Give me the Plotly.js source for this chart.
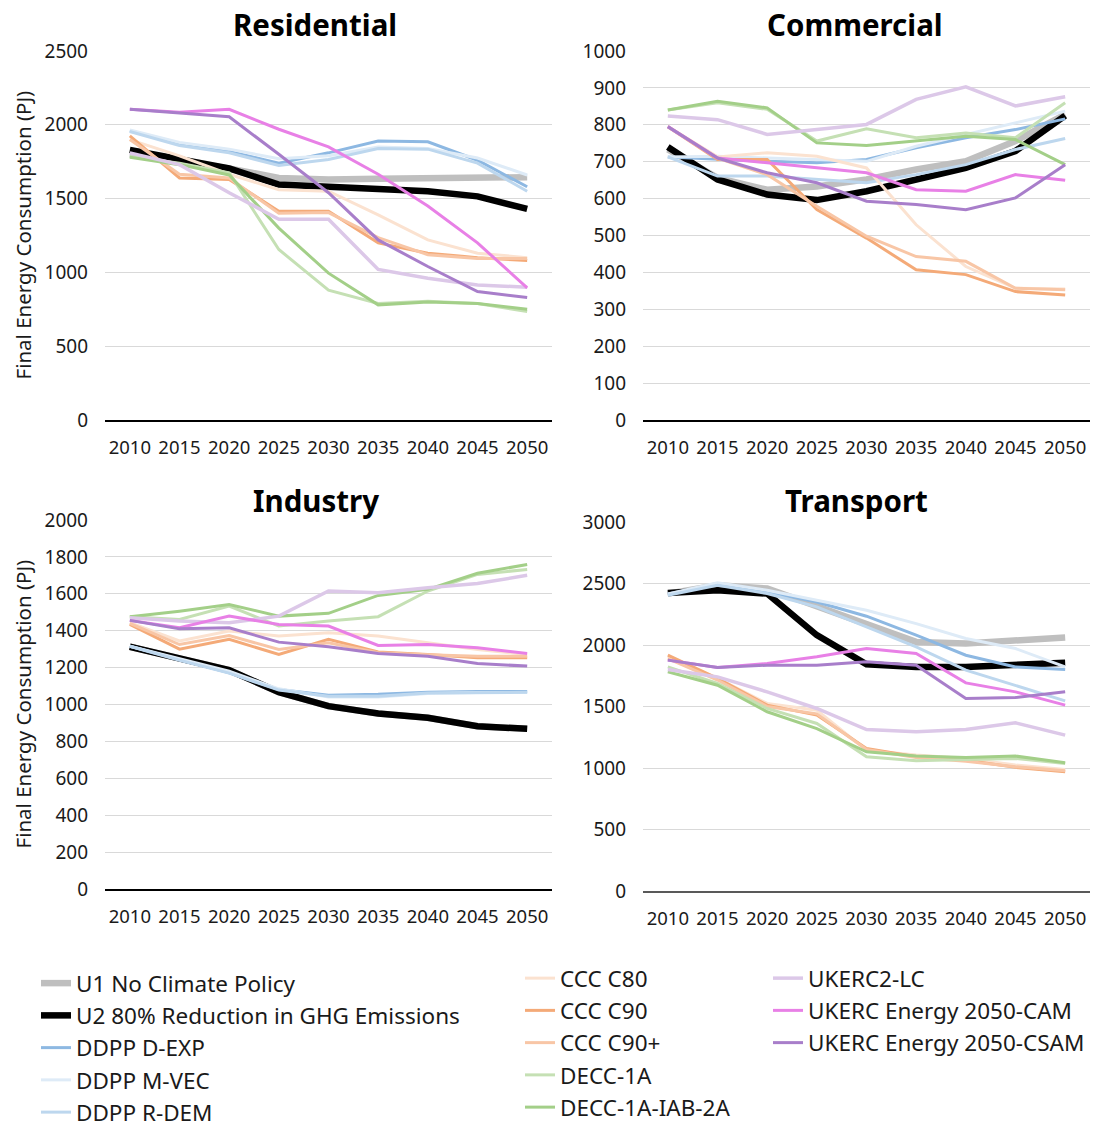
<!DOCTYPE html>
<html>
<head>
<meta charset="utf-8">
<script src="https://cdn.plot.ly/plotly-3.0.1.min.js"></script>
<style>html,body{margin:0;padding:0;background:#fff;}#chart{width:1096px;height:1133px;}</style>
</head>
<body>
<div id="chart"></div>
<script>
const years = ['2010','2015','2020','2025','2030','2035','2040','2045','2050'];
const seriesNames = ['U1 No Climate Policy','U2 80% Reduction in GHG Emissions','DDPP D-EXP','DDPP M-VEC','DDPP R-DEM','CCC C80','CCC C90','CCC C90+','DECC-1A','DECC-1A-IAB-2A','UKERC2-LC','UKERC Energy 2050-CAM','UKERC Energy 2050-CSAM'];
const panelTitles = ['Residential','Commercial','Industry','Transport'];

// Residential (PJ)
const resU1   = [1800,1755,1705,1640,1630,1635,1640,1635,1645];
const resU2   = [1830,1765,1705,1595,1580,1560,1550,1515,1430];
const resDEXP = [1960,1870,1820,1740,1810,1890,1885,1760,1580];
const resMVEC = [1965,1880,1835,1770,1790,1850,1840,1775,1660];
const resRDEM = [1955,1860,1810,1725,1765,1840,1835,1740,1550];
const resC80  = [1900,1790,1665,1560,1550,1390,1220,1130,1100];
const resC90  = [1925,1640,1630,1415,1415,1200,1130,1100,1080];
const resC90p = [1900,1665,1640,1400,1405,1235,1120,1095,1095];
const resD1A  = [1785,1740,1675,1155,880,790,805,790,735];
const resD2A  = [1780,1730,1660,1300,995,780,800,790,750];
const resLC   = [1810,1730,1540,1360,1360,1020,960,915,900];
const resCAM  = [2105,2085,2105,1970,1850,1665,1450,1200,895];
const resCSAM = [2105,2080,2055,1800,1540,1220,1040,870,830];

// Commercial (PJ)
const comU1   = [733,656,624,633,652,679,701,756,828];
const comU2   = [740,652,611,596,620,652,683,729,825];
const comDEXP = [713,706,701,697,706,738,765,787,816];
const comMVEC = [713,715,710,705,701,742,774,805,837];
const comRDEM = [713,661,661,652,643,665,692,733,763];
const comC80  = [795,713,724,715,683,529,416,357,355];
const comC90  = [795,706,706,570,493,407,394,348,339];
const comC90p = [795,710,665,579,498,443,430,357,353];
const comD1A  = [840,860,842,756,789,765,778,765,860];
const comD2A  = [840,864,846,751,744,756,769,760,692];
const comLC   = [824,814,774,787,801,869,903,851,876];
const comCAM  = [795,710,697,683,670,624,620,665,650];
const comCSAM = [795,710,670,643,593,584,570,602,692];

// Industry (PJ)
const indU1   = [1313,1248,1186,1067,991,951,928,882,868];
const indU2   = [1313,1248,1186,1067,991,951,928,882,868];
const indDEXP = [1316,1244,1172,1081,1050,1055,1067,1070,1070];
const indMVEC = [1316,1250,1180,1085,1040,1040,1060,1065,1065];
const indRDEM = [1316,1240,1170,1078,1045,1045,1062,1066,1066];
const indC80  = [1443,1344,1398,1371,1389,1371,1335,1298,1271];
const indC90  = [1434,1300,1353,1271,1353,1285,1271,1253,1253];
const indC90p = [1440,1325,1374,1298,1335,1280,1270,1262,1262];
const indD1A  = [1476,1461,1533,1425,1452,1476,1615,1705,1732];
const indD2A  = [1476,1506,1542,1479,1494,1591,1624,1711,1759];
const indLC   = [1470,1452,1443,1479,1615,1606,1633,1656,1700];
const indCAM  = [1456,1416,1479,1434,1425,1320,1325,1307,1277];
const indCSAM = [1456,1410,1416,1338,1313,1277,1262,1222,1208];

// Transport (PJ)
const traU1   = [2418,2486,2459,2310,2174,2025,2012,2039,2061];
const traU2   = [2423,2445,2418,2080,1844,1822,1822,1836,1855];
const traDEXP = [2415,2494,2432,2350,2234,2080,1917,1822,1801];
const traMVEC = [2415,2505,2445,2364,2283,2174,2053,1971,1822];
const traRDEM = [2405,2486,2418,2310,2147,1985,1795,1673,1546];
const traC80  = [1904,1728,1525,1470,1145,1105,1078,1024,988];
const traC90  = [1917,1728,1511,1430,1159,1091,1064,1005,969];
const traC90p = [1890,1715,1500,1440,1150,1085,1055,1010,978];
const traD1A  = [1822,1687,1484,1362,1091,1059,1070,1078,1037];
const traD2A  = [1782,1673,1457,1321,1132,1097,1086,1097,1043];
const traLC   = [1801,1741,1619,1484,1313,1294,1313,1367,1267];
const traCAM  = [1877,1817,1849,1904,1971,1931,1692,1619,1511];
const traCSAM = [1877,1817,1836,1836,1863,1836,1565,1573,1619];

const panels = [
  [resU1,resU2,resDEXP,resMVEC,resRDEM,resC80,resC90,resC90p,resD1A,resD2A,resLC,resCAM,resCSAM],
  [comU1,comU2,comDEXP,comMVEC,comRDEM,comC80,comC90,comC90p,comD1A,comD2A,comLC,comCAM,comCSAM],
  [indU1,indU2,indDEXP,indMVEC,indRDEM,indC80,indC90,indC90p,indD1A,indD2A,indLC,indCAM,indCSAM],
  [traU1,traU2,traDEXP,traMVEC,traRDEM,traC80,traC90,traC90p,traD1A,traD2A,traLC,traCAM,traCSAM]
];

const colors = ['#BFBFBF','#000000','#8DB8E2','#DEEBF7','#BDD7EE','#FBE2D0','#F4AA78','#F8C6A6','#C5E0B4','#A3CF88','#DCC8E8','#E880E6','#A87ECA'];
const widths = [6.5,6.5,3,3,3,3,3,3,3,3,3.5,3,3];
const legendOf = ['legend','legend','legend','legend','legend','legend2','legend2','legend2','legend2','legend2','legend3','legend3','legend3'];

const W = 1096, H = 1133;
const font = 'Noto Sans, Open Sans, sans-serif';
const xDom = [[105/W,552/W],[643/W,1090/W],[105/W,552/W],[643/W,1090/W]];
const yDom = [[1-420/H,1-51/H],[1-420/H,1-51/H],[1-889/H,1-520/H],[1-891/H,1-522/H]];
const yMax = [2500,1000,2000,3000];
const yStep = [500,100,200,500];
const baseColor = ['#000000','#000000','#000000','#595959'];

const traces = [];
panels.forEach((p, pi) => {
  p.forEach((vals, si) => {
    traces.push({
      type:'scatter', mode:'lines', x: years, y: vals,
      name: seriesNames[si], legendgroup: 'g'+si,
      showlegend: pi === 0, legend: legendOf[si],
      line:{color:colors[si], width:widths[si]},
      xaxis: pi === 0 ? 'x' : 'x'+(pi+1),
      yaxis: pi === 0 ? 'y' : 'y'+(pi+1),
      hovertemplate: '%{x}: %{y} PJ<extra>'+seriesNames[si]+'</extra>'
    });
  });
});

const legFont = {size:22.5, family:font, color:'#1a1a1a'};
const layout = {
  width: W, height: H, margin:{l:0,r:0,t:0,b:0,autoexpand:false},
  paper_bgcolor:'#ffffff', plot_bgcolor:'#ffffff',
  font:{family:font, color:'#1a1a1a', size:18},
  annotations: [],
  legend:{x:36/W, y:1-962/H, xanchor:'left', yanchor:'top', tracegroupgap:0, font:legFont, bgcolor:'rgba(0,0,0,0)'},
  legend2:{x:520/W, y:1-957/H, xanchor:'left', yanchor:'top', tracegroupgap:0, font:legFont, bgcolor:'rgba(0,0,0,0)'},
  legend3:{x:768/W, y:1-957/H, xanchor:'left', yanchor:'top', tracegroupgap:0, font:legFont, bgcolor:'rgba(0,0,0,0)'}
};

for (let i = 0; i < 4; i++) {
  const xs = i === 0 ? 'xaxis' : 'xaxis'+(i+1);
  const ys = i === 0 ? 'yaxis' : 'yaxis'+(i+1);
  layout[xs] = {
    domain: xDom[i], anchor: i === 0 ? 'y' : 'y'+(i+1),
    type:'category', range:[-0.5, 8.5], showgrid:false, zeroline:false,
    showline:true, linecolor: baseColor[i], linewidth:1.6, ticks:'', automargin:false,
    tickfont:{size:18.5, family:font, color:'#1a1a1a'}, ticklabelstandoff:10, fixedrange:true
  };
  layout[ys] = {
    domain: yDom[i], anchor: i === 0 ? 'x' : 'x'+(i+1),
    range:[0, yMax[i]], dtick: yStep[i], tick0:0, showgrid:true, gridcolor:'#D9D9D9', gridwidth:1.3,
    zeroline:false, showline:false, ticks:'', automargin:false,
    tickfont:{size:19, family:font, color:'#1a1a1a'}, ticklabelstandoff:16, fixedrange:true
  };
}

// Panel titles
const titlePos = [[315,25],[855,25],[316,500],[856,500]];
panelTitles.forEach((t, i) => {
  layout.annotations.push({
    text:'<b>'+t+'</b>', xref:'paper', yref:'paper',
    x: titlePos[i][0]/W, y: 1-titlePos[i][1]/H, xanchor:'center', yanchor:'middle',
    showarrow:false, font:{size:29.5, family:font, color:'#000000'}
  });
});
// Y axis titles (left panels)
[[235.5],[704.5]].forEach(c => {
  layout.annotations.push({
    text:'Final Energy Consumption (PJ)', xref:'paper', yref:'paper',
    x: 22/W, y: 1-c[0]/H, xanchor:'center', yanchor:'middle', textangle:-90,
    showarrow:false, font:{size:20.5, family:font, color:'#1a1a1a'}
  });
});

Plotly.newPlot('chart', traces, layout, {displayModeBar:false, responsive:false});
</script>
</body>
</html>
